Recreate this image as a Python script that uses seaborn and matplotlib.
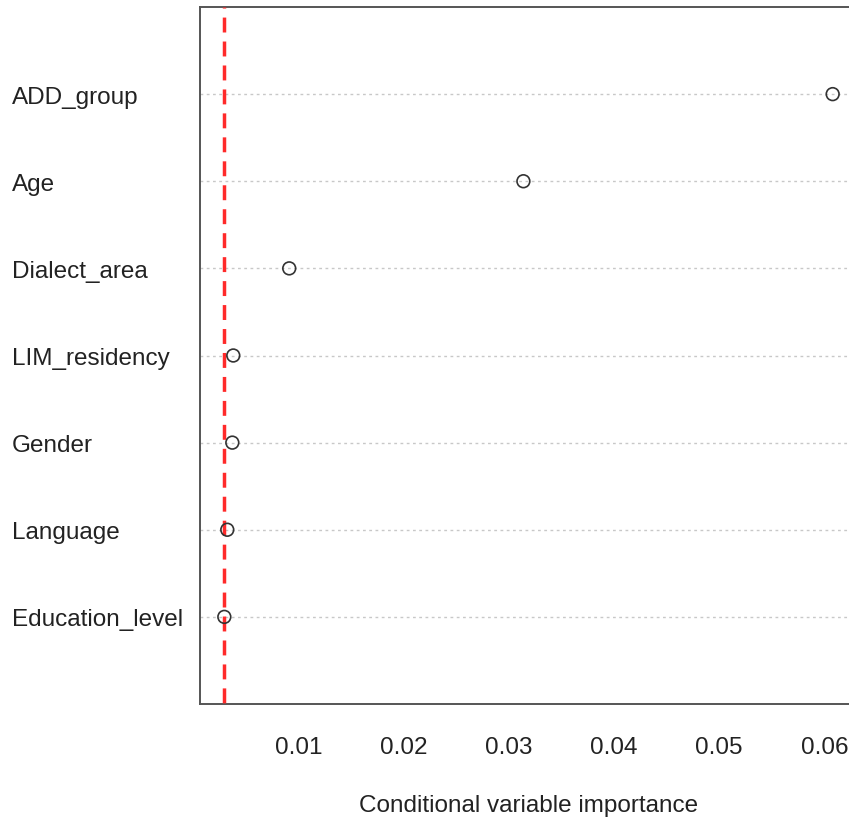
import numpy as np
import pandas as pd
import matplotlib
matplotlib.use("Agg")
import matplotlib.pyplot as plt
import seaborn as sns

# conditional variable importance, top of chart first
variables = ["ADD_group", "Age", "Dialect_area", "LIM_residency",
             "Gender", "Language", "Education_level"]
importance = [0.0608, 0.0314, 0.00914, 0.00382, 0.00373, 0.00325, 0.00297]
threshold = 0.00297
xticks = [0.01, 0.02, 0.03, 0.04, 0.05, 0.06]

df = pd.DataFrame({"variable": variables, "importance": importance})

sns.set_style("white")
plt.rcParams["font.family"] = ["Liberation Sans", "DejaVu Sans"]

fig = plt.figure(figsize=(8.49, 8.2), dpi=100)
ax = fig.add_axes([200 / 849, 115 / 820, 657 / 849, 697 / 820])

# dotted guide lines for each row
for i in range(len(variables)):
    ax.axhline(i, color="#c8c8c8", lw=1.0, ls=(0, (2, 2.5)), zorder=1)

sns.stripplot(data=df, x="importance", y="variable", order=variables,
              jitter=False, size=9.2, color="#333333", linewidth=1.2,
              edgecolor="#333333", ax=ax, zorder=2)
for coll in ax.collections:
    coll.set_facecolor("none")
    coll.set_zorder(4)

# threshold line, drawn top-down so the dash pattern starts at the top
ax.plot([threshold, threshold], [-1, len(variables)], color="#ff2a2a",
        lw=2.5, ls=(4.0, (4.3, 2.6)), zorder=3)

rng = max(importance) - min(importance)
ax.set_xlim(min(importance) - 0.04 * rng, max(importance) + 0.04 * rng)
ax.set_ylim(len(variables), -1)

ax.set_xticks(xticks)
ax.set_xticklabels([f"{t:.2f}" for t in xticks])
ax.tick_params(axis="x", length=11, width=1.1, color="#555555",
               pad=12, labelsize=17.5, labelcolor="#222222", direction="out")
ax.tick_params(axis="y", length=0, pad=135.4, labelsize=17.5,
               labelcolor="#222222")
for lab in ax.get_yticklabels():
    lab.set_horizontalalignment("left")

ax.set_xlabel("Conditional variable importance", fontsize=17.5,
              color="#222222", labelpad=26)
ax.set_ylabel("")

for side, sp in ax.spines.items():
    sp.set_visible(True)
    sp.set_color("#555555")
    sp.set_linewidth(1.4)

fig.savefig("out.png", dpi=100)
